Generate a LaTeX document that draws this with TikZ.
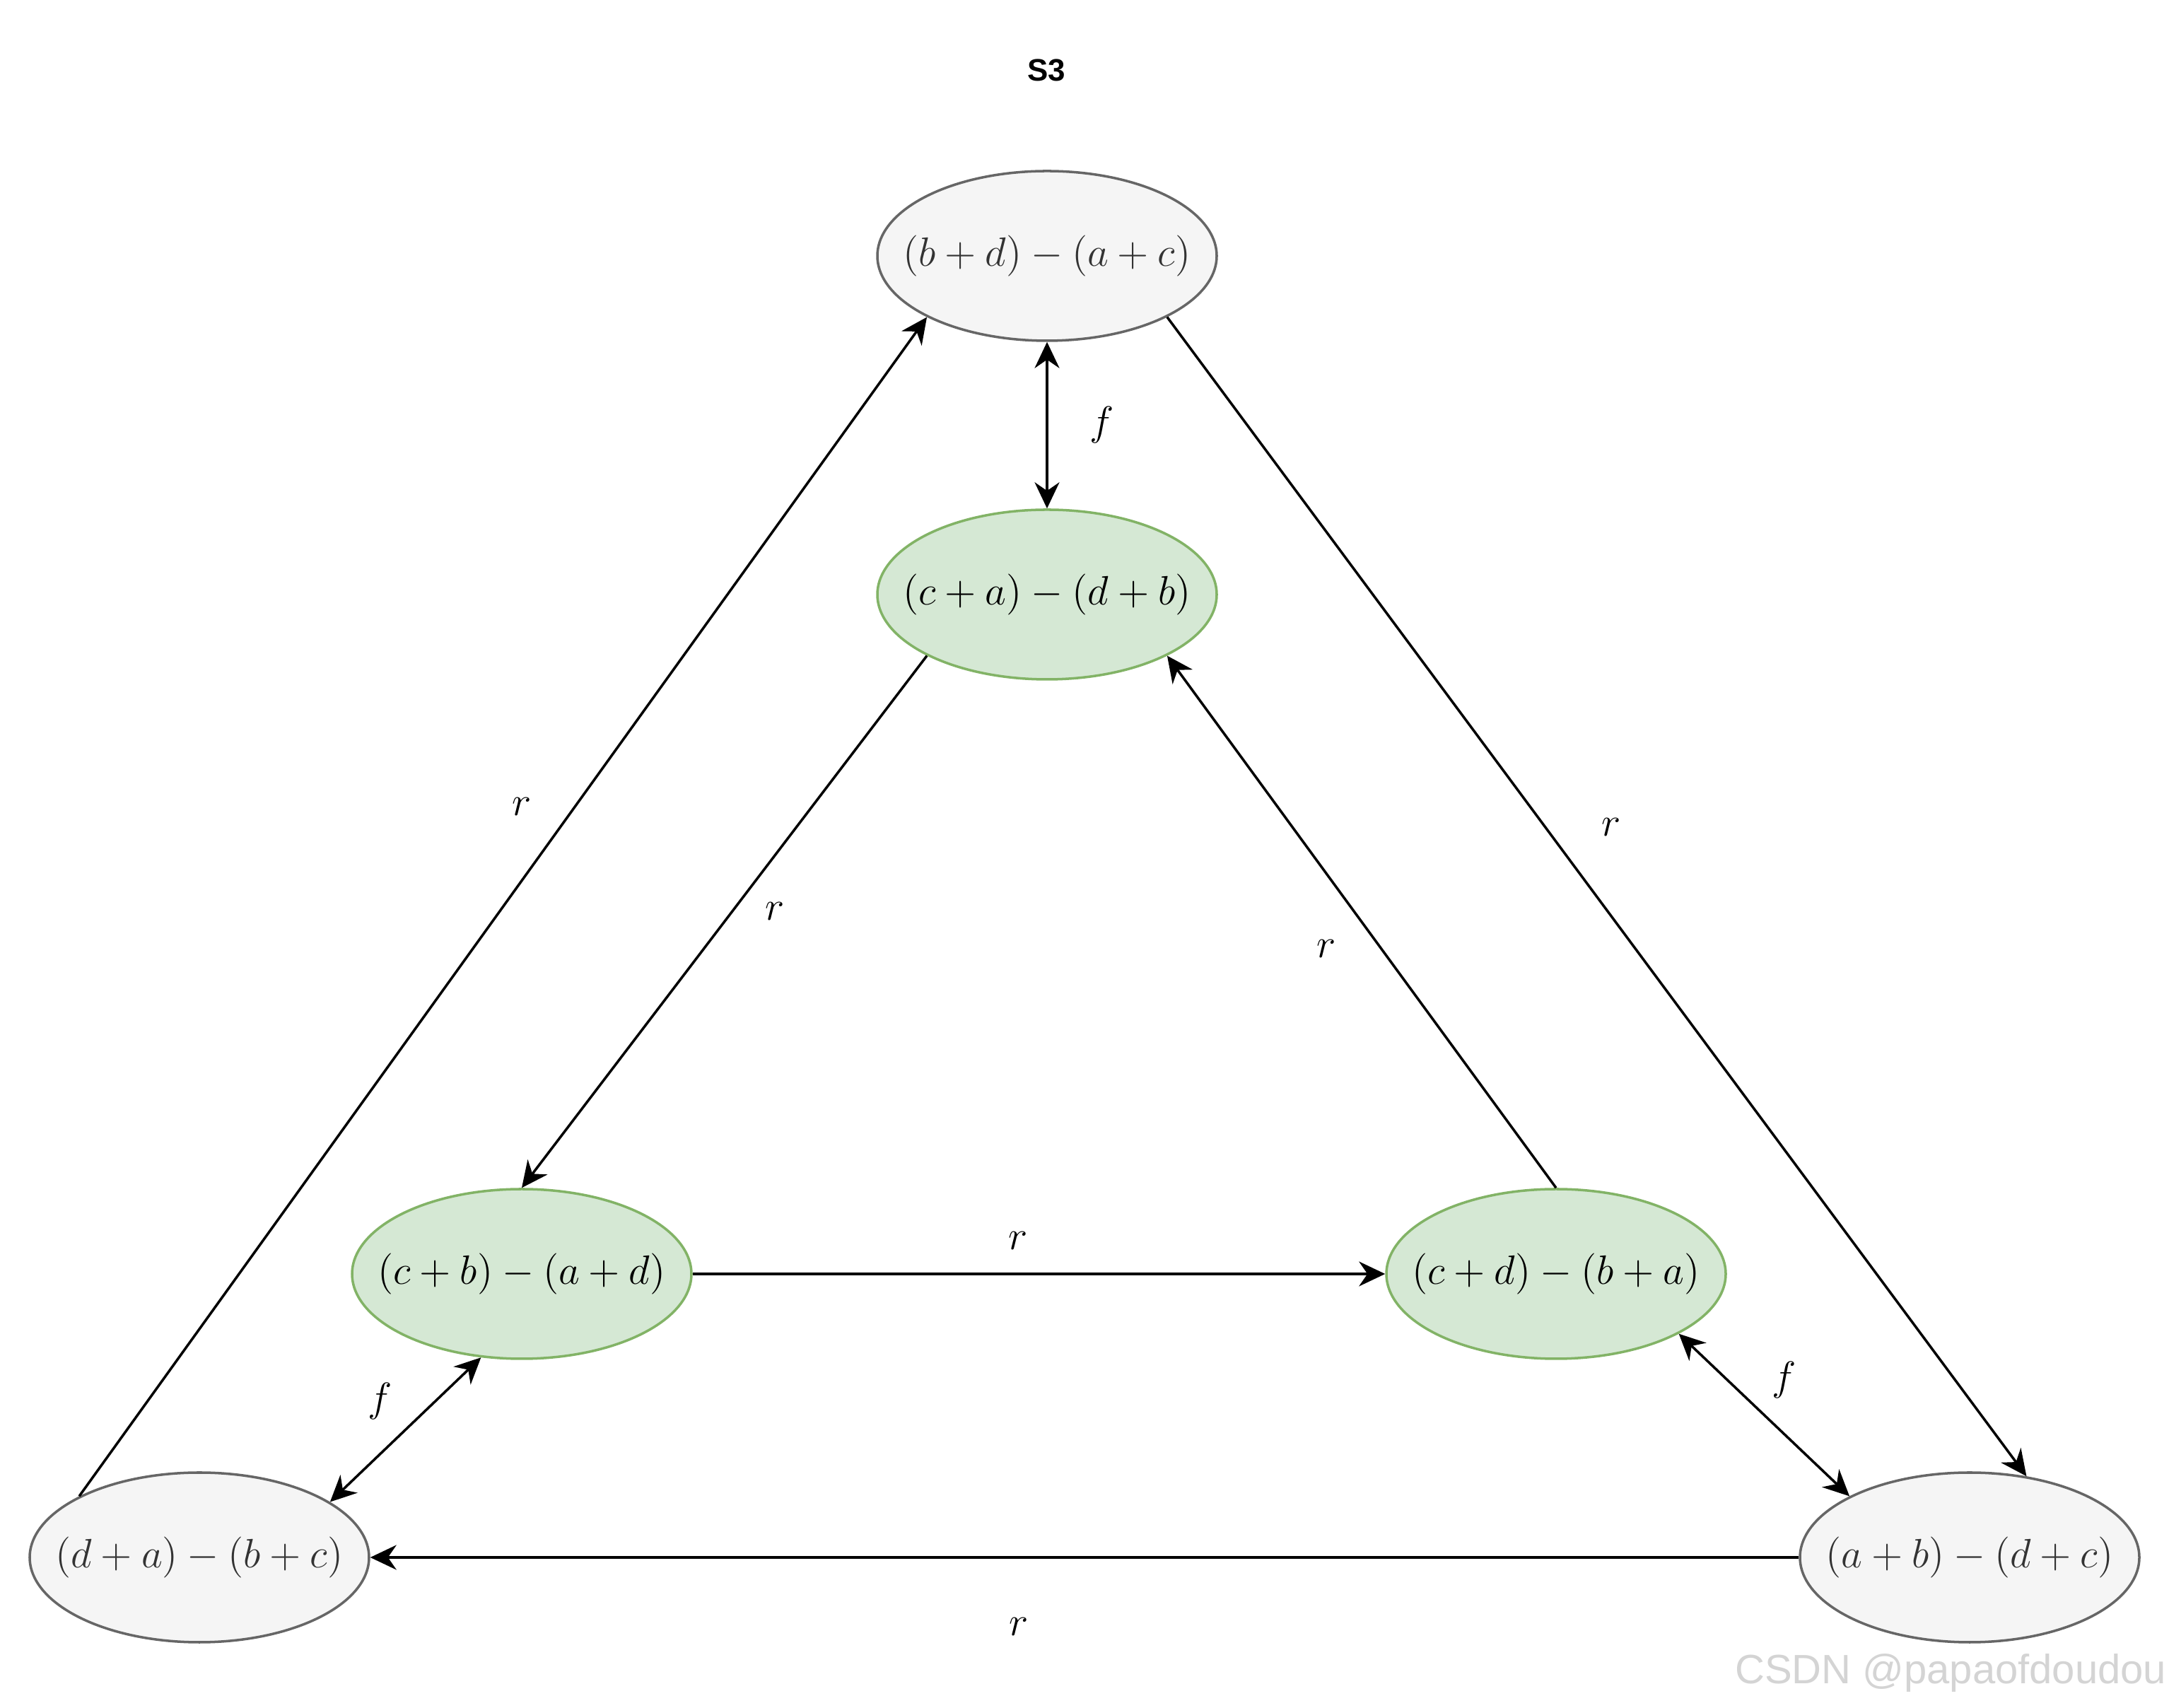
\documentclass[tikz,border=0pt]{standalone}
\usepackage{fix-cm}
\usepackage{fontspec}
\newfontfamily\arialfont{Liberation Sans}
\usepackage{tikz}
\usetikzlibrary{arrows.meta,shapes.geometric}
\definecolor{ringfill}{HTML}{F5F5F5}
\definecolor{ringline}{HTML}{666666}
\definecolor{ringtext}{HTML}{333333}
\definecolor{corefill}{HTML}{D5E8D4}
\definecolor{coreline}{HTML}{82B366}
\tikzset{
  ring/.style={ellipse, draw=ringline, fill=ringfill, text=ringtext, line width=1pt,
               minimum width=48mm, minimum height=24mm, inner xsep=-4mm,
               font=\fontsize{16.5}{19}\selectfont},
  core/.style={ellipse, draw=coreline, fill=corefill, text=black, line width=1pt,
               minimum width=48mm, minimum height=24mm, inner xsep=-4mm,
               font=\fontsize{16.5}{19}\selectfont},
  fl/.style={-{Stealth[length=3.7mm,width=3.5mm,inset=1.2mm]}, line width=1pt},
  bi/.style={{Stealth[length=3.7mm,width=3.5mm,inset=1.2mm]}-{Stealth[length=3.7mm,width=3.5mm,inset=1.2mm]},
             line width=1pt},
  lbl/.style={font=\fontsize{16.5}{19}\selectfont, inner sep=1pt},
  ttl/.style={font=\arialfont\bfseries\fontsize{12.5}{15}\selectfont, inner sep=0pt},
  wmark/.style={font=\arialfont\fontsize{16.5}{20}\selectfont, text=black!17, inner sep=0pt},
}
\begin{document}
\begin{tikzpicture}
\useasboundingbox (0,0) rectangle (30.68,24.16);
\node[ttl] (title) at (14.80,23.17) {S3};
\node[ring] (bdac) at (14.81,20.54) {$(b+d)-(a+c)$};
\node[core] (cadb) at (14.81,15.75) {$(c+a)-(d+b)$};
\node[core] (cbad) at (7.38,6.14) {$(c+b)-(a+d)$};
\node[core] (cdba) at (22.01,6.14) {$(c+d)-(b+a)$};
\node[ring] (dabc) at (2.82,2.13) {$(d+a)-(b+c)$};
\node[ring] (abdc) at (27.86,2.13) {$(a+b)-(d+c)$};
\node[wmark, anchor=base east] (mark) at (30.65,0.34) {CSDN @papaofdoudou};
\draw[bi] (bdac.south) -- node[lbl,pos=0.5,xshift=7.8mm]{$f$} (cadb.north);
\draw[fl] (dabc.153) -- node[lbl,pos=0.585,xshift=-7.5mm]{$r$} (bdac.207);
\draw[fl] (bdac.333) -- node[lbl,pos=0.44,xshift=9.3mm]{$r$} (abdc.55);
\draw[fl] (cadb.207) -- node[lbl,pos=0.48,xshift=6mm]{$r$} (cbad.north);
\draw[fl] (cbad.east) -- node[lbl,pos=0.47,yshift=4.7mm]{$r$} (cdba.west);
\draw[fl] (cdba.north) -- node[lbl,pos=0.45,xshift=-7.7mm]{$r$} (cadb.333);
\draw[fl] (abdc.west) -- node[lbl,pos=0.546,yshift=-9.8mm]{$r$} (dabc.east);
\draw[bi] (cbad.244) -- node[lbl,pos=0.5,xshift=-3.6mm,yshift=4mm]{$f$} (dabc.23);
\draw[bi] (cdba.334) -- node[lbl,pos=0.5,xshift=2.8mm,yshift=5mm]{$f$} (abdc.153);
\end{tikzpicture}
\end{document}
